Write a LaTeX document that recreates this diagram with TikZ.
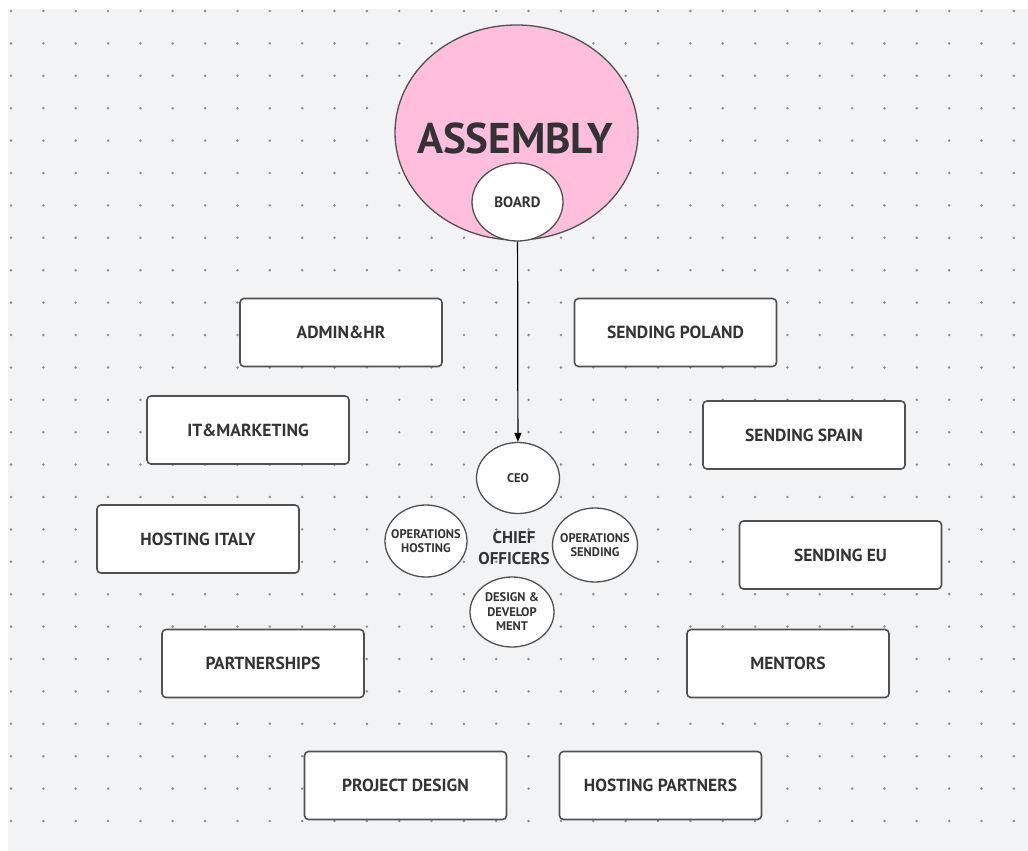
\documentclass[tikz,border=0pt]{standalone}
\usepackage{fontspec}
\setsansfont{PT Sans}
\usepackage{tikz}
\usetikzlibrary{shapes.geometric, arrows.meta, positioning}

\definecolor{canvas}{HTML}{F1F3F5}
\definecolor{griddot}{HTML}{8E8E8E}
\definecolor{inkgray}{HTML}{333333}
\definecolor{edgegray}{HTML}{505050}
\definecolor{assemblypink}{HTML}{FFBFDC}

\begin{document}
\begin{tikzpicture}[x=1pt, y=-1pt,
    unitbox/.style={draw=edgegray, line width=1.6pt, fill=white, rounded corners=4pt,
        minimum width=202pt, minimum height=68pt, inner sep=0pt,
        font=\sffamily\bfseries\fontsize{17.5}{20}\selectfont, text=inkgray},
    officer/.style={ellipse, draw=edgegray, line width=1.3pt, fill=white, inner sep=0pt,
        minimum width=83pt, minimum height=71pt},
    officertext/.style={align=center, inner sep=0pt, text=inkgray,
        font=\sffamily\bfseries\fontsize{12.5}{14.5}\selectfont}]
    % Canvas and dot grid
    \useasboundingbox (0,0) rectangle (1028,851);
    \fill[canvas] (8,9) rectangle (1028,851);
    \foreach \i in {0,...,31} {
        \foreach \j in {0,...,25} {
            \fill[griddot] ({11+32.35*\i},{11+32.4*\j}) circle (1.4pt);
        }
    }

    % Assembly and board
    \node[ellipse, draw=edgegray, line width=1.3pt, fill=assemblypink, inner sep=0pt,
        minimum width=243pt, minimum height=215pt] (assembly) at (516.5,132.5) {};
    \node[font=\sffamily\bfseries\fontsize{43}{45}\selectfont, text=inkgray] at (515,138) {ASSEMBLY};
    \node[officer, minimum width=91pt, minimum height=78pt] (board) at (517.5,202) {};
    \node[officertext, font=\sffamily\bfseries\fontsize{15}{17}\selectfont] at (board) {BOARD};

    % Chief officers
    \node[officer] (ceo) at (518,478) {};
    \node[officer, minimum width=82pt, minimum height=72pt] (opshost) at (426,541) {};
    \node[officer, minimum width=85pt, minimum height=74pt] (opssend) at (595,545) {};
    \node[officer, minimum width=84pt, minimum height=70pt] (design) at (512,612) {};
    \node[officertext] at (ceo) {CEO};
    \node[officertext] at (opshost) {OPERATIONS\\HOSTING};
    \node[officertext] at (opssend) {OPERATIONS\\SENDING};
    \node[officertext] at (design) {DESIGN \&\\DEVELOP\\MENT};
    \node[align=center, text=inkgray, font=\sffamily\bfseries\fontsize{17}{21}\selectfont] (chief) at (514,548) {CHIEF\\OFFICERS};

    \draw[-{Triangle[length=9pt, width=7pt]}, line width=1.2pt, black] (board) -- (ceo);

    % Units
    \node[unitbox] (admin) at (341,332.5) {ADMIN\&HR};
    \node[unitbox] (itmarketing) at (248,430) {IT\&MARKETING};
    \node[unitbox] (hostitaly) at (198,539) {HOSTING ITALY};
    \node[unitbox] (partnerships) at (263,663.5) {PARTNERSHIPS};
    \node[unitbox] (sendpoland) at (675.5,332.5) {SENDING POLAND};
    \node[unitbox] (sendspain) at (804,435) {SENDING SPAIN};
    \node[unitbox] (sendeu) at (840.5,555) {SENDING EU};
    \node[unitbox] (mentors) at (788,663.5) {MENTORS};
    \node[unitbox] (projdesign) at (405.5,785.5) {PROJECT DESIGN};
    \node[unitbox] (hostpartners) at (660.5,785.5) {HOSTING PARTNERS};
\end{tikzpicture}
\end{document}
